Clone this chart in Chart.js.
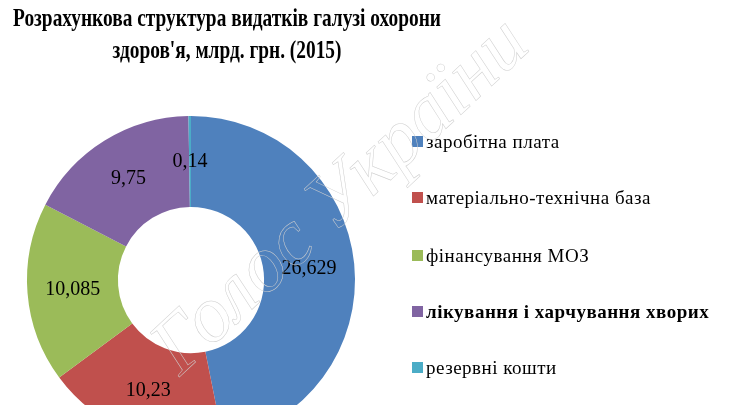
<!DOCTYPE html>
<html>
<head>
<meta charset="utf-8">
<script src="https://cdn.jsdelivr.net/npm/chart.js@4"></script>
<style>
  html, body { margin: 0; padding: 0; background: #fff; overflow: hidden; }
  #wrap { position: relative; width: 750px; height: 405px; overflow: hidden; }
  #box { position: absolute; left: 0; top: 0; width: 750px; height: 470px; }
  #title {
    position: absolute; left: -73px; top: 2px; width: 600px; text-align: center; white-space: nowrap;
    font: bold 26px "Liberation Serif", serif; line-height: 32px; color: #000;
    transform: scaleX(0.745); transform-origin: center top;
  }
  #legend { position: absolute; left: 412px; top: 0; }
  #legend .item {
    position: absolute; white-space: nowrap; letter-spacing: 0.5px;
    font: 19px "Liberation Serif", serif; color: #000; line-height: 20px;
  }
  #legend .sw { display: inline-block; width: 11px; height: 11px; margin-right: 3px; vertical-align: 1px; }
  #wm {
    position: absolute; left: 192px; top: 300px; height: 90px; line-height: 90px; white-space: nowrap;
    font: italic 80px "Liberation Serif", serif; color: transparent;
    -webkit-text-stroke: 0.5px #cfcfcf; transform: rotate(-43deg); transform-origin: 0 100%;
  }
</style>
</head>
<body>
<div id="wrap">
  <div id="box"><canvas id="pie"></canvas></div>
  <div id="title">Розрахункова структура видатків галузі охорони<br>здоров'я, млрд. грн. (2015)</div>
  <div id="legend"></div>
  <div id="wm">Голос України</div>
</div>
<script>
const categories = ['заробітна плата', 'матеріально-технічна база', 'фінансування МОЗ', 'лікування і харчування хворих', 'резервні кошти'];
const amounts = [26.629, 10.23, 10.085, 9.75, 0.14];
const sliceColors = ['#4F81BD', '#C0504D', '#9BBB59', '#8064A2', '#4BACC6'];

// value labels in the middle of each ring segment
const sliceLabels = {
    id: 'sliceLabels',
    afterDatasetsDraw(chart) {
        const ctx = chart.ctx;
        const meta = chart.getDatasetMeta(0);
        ctx.save();
        ctx.font = '20px "Liberation Serif", serif';
        ctx.fillStyle = '#000';
        ctx.textAlign = 'center';
        ctx.textBaseline = 'middle';
        meta.data.forEach((arc, i) => {
            const p = arc.tooltipPosition();
            ctx.fillText(String(amounts[i]).replace('.', ','), p.x, p.y);
        });
        ctx.restore();
    }
};

const chart = new Chart(document.getElementById('pie'), {
    type: 'doughnut',
    data: {
        labels: categories,
        datasets: [{
            data: amounts,
            backgroundColor: sliceColors,
            borderWidth: 0,
            radius: 164,
            cutout: 82
        }]
    },
    options: {
        responsive: true,
        maintainAspectRatio: false,
        animation: false,
        layout: { padding: { left: 6, right: 374, top: 96, bottom: 6 } },
        plugins: {
            legend: { display: false },
            title: { display: false },
            tooltip: { enabled: false }
        }
    },
    plugins: [sliceLabels]
});

// legend built from the same arrays
const legend = document.getElementById('legend');
const rowY = [132, 188, 246, 302, 358];
categories.forEach((name, i) => {
    const row = document.createElement('div');
    row.className = 'item';
    row.style.top = rowY[i] + 'px';
    if (i === 3) row.style.fontWeight = 'bold';
    row.innerHTML = '<span class="sw" style="background:' + sliceColors[i] + '"></span>' + name;
    legend.appendChild(row);
});
</script>
</body>
</html>
